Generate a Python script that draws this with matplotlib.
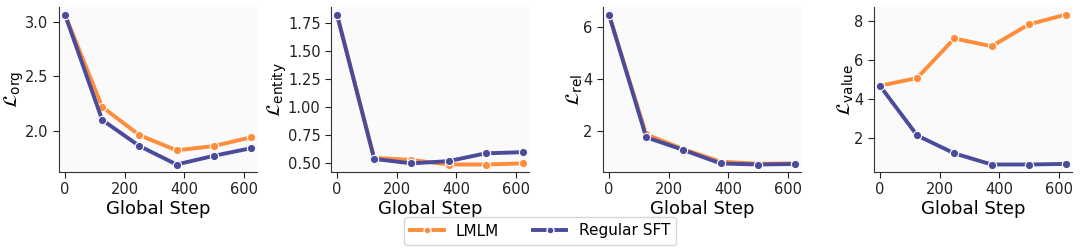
import matplotlib
matplotlib.use("Agg")
import matplotlib.pyplot as plt
from matplotlib.lines import Line2D

steps = [0, 125, 250, 375, 500, 625]

org_lmlm = [3.07, 2.22, 1.96, 1.82, 1.86, 1.94]
org_sft = [3.07, 2.10, 1.86, 1.69, 1.77, 1.84]

entity_lmlm = [1.83, 0.55, 0.53, 0.49, 0.49, 0.50]
entity_sft = [1.83, 0.54, 0.50, 0.52, 0.59, 0.60]

rel_lmlm = [6.47, 1.85, 1.28, 0.80, 0.72, 0.73]
rel_sft = [6.47, 1.74, 1.25, 0.73, 0.69, 0.71]

value_lmlm = [4.69, 5.09, 7.12, 6.72, 7.84, 8.35]
value_sft = [4.69, 2.14, 1.22, 0.65, 0.65, 0.68]

ylabels = [r"$\mathcal{L}_{\mathrm{org}}$", r"$\mathcal{L}_{\mathrm{entity}}$",
           r"$\mathcal{L}_{\mathrm{rel}}$", r"$\mathcal{L}_{\mathrm{value}}$"]
series = [(org_lmlm, org_sft), (entity_lmlm, entity_sft),
          (rel_lmlm, rel_sft), (value_lmlm, value_sft)]
yticks = [[2.0, 2.5, 3.0], [0.5, 0.75, 1.0, 1.25, 1.5, 1.75], [2, 4, 6], [2, 4, 6, 8]]
yfmt = ["{:.1f}", "{:.2f}", "{:d}", "{:d}"]

c_lmlm = "#FF8C3A"
c_sft = "#4B4B9B"

fig = plt.figure(figsize=(10.8, 2.52), dpi=100)
lefts = [59, 331, 603, 874]
W, H = 1080, 252
ax_w = 198
top, bottom = 7, 172

for i, (left, (a, b)) in enumerate(zip(lefts, series)):
    ax = fig.add_axes([left / W, 1 - bottom / H, ax_w / W, (bottom - top) / H])
    ax.set_facecolor("#FAFAFA")
    for ys, c, z in [(a, c_lmlm, 2), (b, c_sft, 3)]:
        ax.plot(steps, ys, color=c, lw=2.8, marker="o", ms=6,
                markeredgecolor="white", markeredgewidth=0.8, zorder=z)
    ax.set_xticks([0, 200, 400, 600])
    ax.set_yticks(yticks[i])
    ax.set_yticklabels([yfmt[i].format(v) for v in yticks[i]])
    ax.tick_params(labelsize=10.5, colors="#222222", length=4)
    ax.set_xlabel("Global Step", fontsize=13, labelpad=2)
    ax.set_ylabel(ylabels[i], fontsize=14, labelpad=-1)
    ax.set_xlim(-20, 645)
    for s in ["top", "right"]:
        ax.spines[s].set_visible(False)
    for s in ["left", "bottom"]:
        ax.spines[s].set_color("#333333")

handles = [Line2D([], [], color=c_lmlm, lw=2.8, marker="o", ms=5, markeredgecolor="white"),
           Line2D([], [], color=c_sft, lw=2.8, marker="o", ms=5, markeredgecolor="white")]
fig.legend(handles, ["LMLM", "Regular SFT"], loc="center", bbox_to_anchor=(540 / W, 1 - 231 / H),
           ncol=2, fontsize=11, frameon=True, handlelength=2.2, columnspacing=2.2,
           borderpad=0.4, fancybox=True)

fig.savefig("out.png", dpi=100)
